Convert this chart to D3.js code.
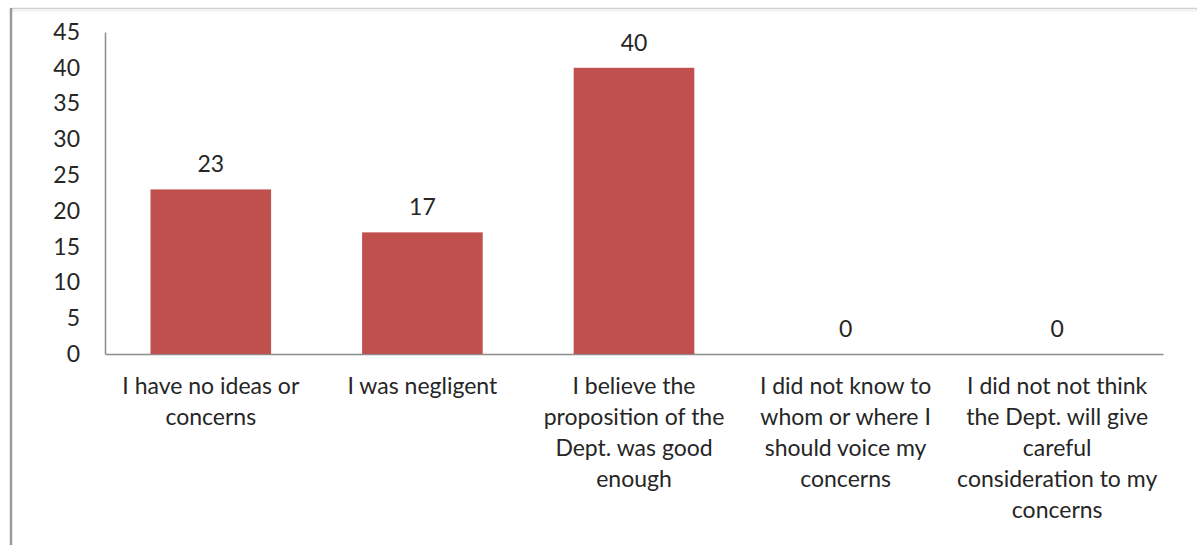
<!DOCTYPE html>
<html><head><meta charset="utf-8">
<script src="https://cdn.jsdelivr.net/npm/d3@7"></script>
<style>html,body{margin:0;padding:0;background:#fff;}svg{display:block;}</style>
</head><body>
<script>
const categories = [
  ["I have no ideas or", "concerns"],
  ["I was negligent"],
  ["I believe the", "proposition of the", "Dept. was good", "enough"],
  ["I did not know to", "whom or where I", "should voice my", "concerns"],
  ["I did not not think", "the Dept. will give", "careful", "consideration to my", "concerns"]
];
const values = [23, 17, 40, 0, 0];
const yTicks = [0, 5, 10, 15, 20, 25, 30, 35, 40, 45];

(function () {
const W = 1197, H = 545;
const svg = d3.select("body").append("svg").attr("width", W).attr("height", H);
const font = "Lato, 'Open Sans', sans-serif";
const pLeft = 105, pRight = 1163, pTop = 32, pBottom = 354;

// frame
svg.append("line").attr("x1", 10).attr("x2", W).attr("y1", 8.5).attr("y2", 8.5)
  .attr("stroke", "#d0d0d0").attr("stroke-width", 1.5);
svg.append("line").attr("x1", 10).attr("x2", W).attr("y1", 10.5).attr("y2", 10.5)
  .attr("stroke", "#f2f2f2").attr("stroke-width", 2);
svg.append("line").attr("x1", 11).attr("x2", 11).attr("y1", 8).attr("y2", H)
  .attr("stroke", "#9a9a9a").attr("stroke-width", 2.5);

const x = d3.scaleBand().domain(d3.range(values.length)).range([pLeft, pRight]).paddingInner(0.43).paddingOuter(0.215);
const y = d3.scaleLinear().domain([0, 45]).range([pBottom, pTop]);

// y axis
const yAxis = svg.append("g").attr("transform", `translate(${pLeft},0)`)
  .call(d3.axisLeft(y).tickValues(yTicks).tickSize(0).tickPadding(25));
yAxis.select(".domain").attr("stroke", "#8c8c8c").attr("stroke-width", 1.5);
yAxis.selectAll("text").attr("font-family", font).attr("font-size", 23).attr("fill", "#262626");

// x axis
const xAxis = svg.append("g").attr("transform", `translate(0,${pBottom})`)
  .call(d3.axisBottom(x).tickSize(0).tickFormat(""));
xAxis.select(".domain").attr("stroke", "#8c8c8c").attr("stroke-width", 1.5);

// bars
svg.selectAll("rect.bar").data(values).join("rect").attr("class", "bar")
  .attr("x", (d, i) => x(i)).attr("width", x.bandwidth())
  .attr("y", d => y(d)).attr("height", d => y(0) - y(d))
  .attr("fill", "#c0504d");

// value labels
svg.selectAll("text.val").data(values).join("text").attr("class", "val")
  .attr("x", (d, i) => x(i) + x.bandwidth() / 2)
  .attr("y", d => y(d) - 17)
  .attr("text-anchor", "middle").attr("font-family", font).attr("font-size", 23).attr("fill", "#262626")
  .text(d => d);

// category labels
categories.forEach((lines, i) => {
  const t = svg.append("text").attr("text-anchor", "middle").attr("font-family", font)
    .attr("font-size", 23).attr("fill", "#262626");
  lines.forEach((ln, j) => {
    t.append("tspan").attr("x", x(i) + x.bandwidth() / 2).attr("y", 394 + j * 31).text(ln);
  });
});
})();
</script>
</body></html>
